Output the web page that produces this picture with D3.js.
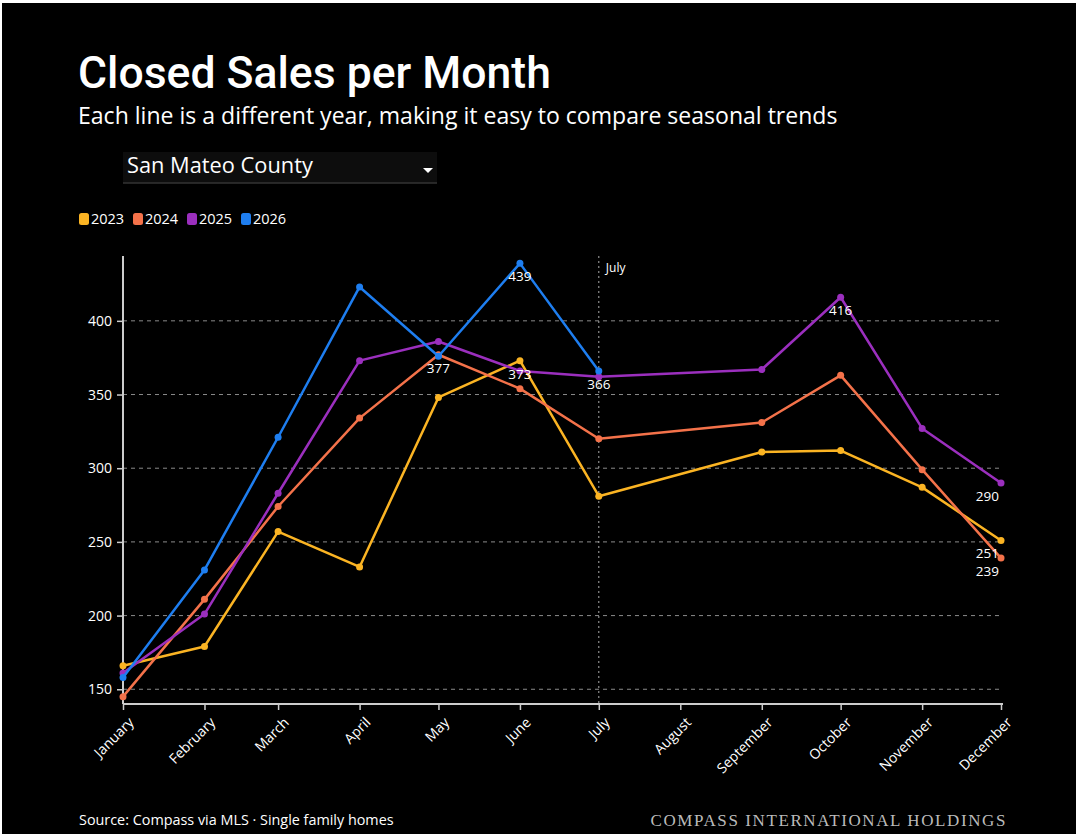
<!DOCTYPE html>
<html>
<head>
<meta charset="utf-8">
<script src="https://cdn.jsdelivr.net/npm/d3@7"></script>
<style>
  html, body { margin: 0; padding: 0; background: #fff; }
  #page { position: absolute; left: 2px; top: 3px; width: 1074px; height: 831px; background: #000; overflow: hidden; }
  svg { display: block; }
</style>
</head>
<body>
<div id="page"></div>
<script>
// months on a time axis (August has no data)
var months = ["January", "February", "March", "April", "May", "June", "July",
	"August", "September", "October", "November", "December"];
var years = ["2023", "2024", "2025", "2026"];
var colors = ["#fbb423", "#f4724a", "#9b2fbe", "#1e7ef0"];

// closed sales per month, null where no value
var sales2023 = [166, 179, 257, 233, 348, 373, 281, null, 311, 312, 287, 251];
var sales2024 = [145, 211, 274, 334, 377, 354, 320, null, 331, 363, 299, 239];
var sales2025 = [161, 201, 283, 373, 386, 366, 362, null, 367, 416, 327, 290];
var sales2026 = [158, 231, 321, 423, 376, 439, 366, null, null, null, null, null];
var allSales = [sales2023, sales2024, sales2025, sales2026];

var yTicks = [150, 200, 250, 300, 350, 400];
var currentMonth = "July";

var W = 1074, H = 831;
var svg = d3.select("#page").append("svg").attr("width", W).attr("height", H);
var font = "'Open Sans', 'Noto Sans', sans-serif";

// shrink or grow a text's font size so it spans the wanted width
function fitWidth(sel, width){
	var size = parseFloat(sel.attr("font-size"));
	var len = sel.node().getComputedTextLength();
	sel.attr("font-size", (size * width / len).toFixed(2) + "px");
}

// title block
var title = svg.append("text").attr("x", 76).attr("y", 85)
	.attr("fill", "#fff").attr("font-family", "Roboto, " + font).attr("font-size", "38px")
	.attr("font-weight", 500).text("Closed Sales per Month");
fitWidth(title, 473);
var sub = svg.append("text").attr("x", 76).attr("y", 121)
	.attr("fill", "#fff").attr("font-family", font).attr("font-size", "20px")
	.attr("font-weight", 500)
	.text("Each line is a different year, making it easy to compare seasonal trends");
fitWidth(sub, 760);

// dropdown look
var dd = svg.append("g").attr("transform", "translate(121,149)");
dd.append("rect").attr("width", 314).attr("height", 31).attr("fill", "#0d0d0d");
dd.append("line").attr("x1", 0).attr("x2", 314).attr("y1", 31).attr("y2", 31)
	.attr("stroke", "#333").attr("stroke-width", 1.5);
var ddText = dd.append("text").attr("x", 4).attr("y", 21).attr("fill", "#fff")
	.attr("font-family", font).attr("font-size", "19px").attr("font-weight", 500)
	.text("San Mateo County");
fitWidth(ddText, 186);
dd.append("path").attr("d", "M300,16 L310,16 L305,21 Z").attr("fill", "#fff");

// legend
var legend = svg.append("g").attr("transform", "translate(77,210)");
years.forEach(function(y, i){
	var g = legend.append("g").attr("transform", "translate(" + (i * 54) + ",0)");
	g.append("rect").attr("width", 10).attr("height", 12).attr("rx", 2.5)
		.attr("fill", colors[i]);
	g.append("text").attr("x", 12).attr("y", 11).attr("fill", "#fff")
		.attr("font-family", font).attr("font-size", "14.5px").attr("font-weight", 500).text(y);
});

// scales
var parseMonth = function(i){ return new Date(2023, i, 1); };
var x = d3.scaleTime()
	.domain([parseMonth(0), parseMonth(11)])
	.range([121, 999]);
var y = d3.scaleLinear().domain([140, 444]).range([701, 253]);

var chart = svg.append("g");

// grid lines
chart.selectAll("line.grid").data(yTicks).enter().append("line")
	.attr("class", "grid")
	.attr("x1", x.range()[0]).attr("x2", x.range()[1])
	.attr("y1", function(d){ return y(d); }).attr("y2", function(d){ return y(d); })
	.attr("stroke", "#8a8a8a").attr("stroke-width", 1).attr("stroke-dasharray", "4,4");

// current month marker
var cm = months.indexOf(currentMonth);
chart.append("line").attr("x1", x(parseMonth(cm))).attr("x2", x(parseMonth(cm)))
	.attr("y1", y.range()[1]).attr("y2", y.range()[0])
	.attr("stroke", "#aaa").attr("stroke-width", 1).attr("stroke-dasharray", "2,3");
chart.append("text").attr("x", x(parseMonth(cm)) + 7).attr("y", y.range()[1] + 16)
	.attr("fill", "#fff").attr("font-family", font).attr("font-size", "12px").text(currentMonth);

// axes
var yAxis = chart.append("g").attr("transform", "translate(" + x.range()[0] + ",0)")
	.call(d3.axisLeft(y).tickValues(yTicks).tickSize(6).tickPadding(5));
var xAxis = chart.append("g").attr("transform", "translate(0," + y.range()[0] + ")")
	.call(d3.axisBottom(x).tickValues(months.map(function(m, i){ return parseMonth(i); }))
		.tickFormat(function(d){ return months[d.getMonth()]; }).tickSize(6).tickSizeOuter(0));

[yAxis, xAxis].forEach(function(a){
	a.select(".domain").attr("stroke", "#ccc").attr("stroke-width", 2);
	a.selectAll(".tick line").attr("stroke", "#ccc").attr("stroke-width", 1.5);
	a.selectAll("text").attr("fill", "#fff").attr("font-family", font)
		.attr("font-size", "14px").attr("font-weight", 500);
});
xAxis.selectAll("text")
	.attr("text-anchor", "end")
	.attr("transform", "translate(0,8) rotate(-45)")
	.attr("dy", "0.5em").attr("dx", "0");
xAxis.select(".domain").attr("d", "M" + x.range()[0] + ",0H" + (x.range()[1] + 2));
yAxis.select(".domain").attr("d", "M0," + y.range()[0] + "V" + y.range()[1]);

// lines and points
var line = d3.line()
	.defined(function(d){ return d.v !== null; })
	.x(function(d){ return x(parseMonth(d.m)); })
	.y(function(d){ return y(d.v); });

allSales.forEach(function(series, s){
	var pts = series.map(function(v, m){ return {m: m, v: v}; })
		.filter(function(d){ return d.v !== null; });
	chart.append("path").datum(pts).attr("d", line)
		.attr("fill", "none").attr("stroke", colors[s]).attr("stroke-width", 2.5)
		.attr("stroke-linejoin", "round");
	chart.selectAll("circle.s" + s).data(pts).enter().append("circle")
		.attr("class", "s" + s)
		.attr("cx", function(d){ return x(parseMonth(d.m)); })
		.attr("cy", function(d){ return y(d.v); })
		.attr("r", 3.5).attr("fill", colors[s]);
});

// value labels: maximum and last point of each series
allSales.forEach(function(series, s){
	var pts = series.map(function(v, m){ return {m: m, v: v}; })
		.filter(function(d){ return d.v !== null; });
	var maxPt = pts.reduce(function(a, b){ return b.v > a.v ? b : a; });
	var lastPt = pts[pts.length - 1];
	[maxPt, lastPt].forEach(function(d){
		var atEdge = d.m === 11;
		chart.append("text")
			.attr("x", x(parseMonth(d.m)) + (atEdge ? -2 : 0))
			.attr("y", y(d.v) + 18)
			.attr("text-anchor", atEdge ? "end" : "middle")
			.attr("fill", "#fff").attr("font-family", font).attr("font-size", "13.5px")
			.attr("font-weight", 500)
			.text(d.v);
	});
});

// footer
var src = svg.append("text").attr("x", 77).attr("y", 822).attr("fill", "#fff")
	.attr("font-family", font).attr("font-size", "13px").attr("font-weight", 500)
	.text("Source: Compass via MLS \u00b7 Single family homes");
fitWidth(src, 315);
svg.append("text").attr("x", 1005).attr("y", 823).attr("text-anchor", "end")
	.attr("fill", "#bbb").attr("font-family", "'Liberation Serif', 'DejaVu Serif', serif")
	.attr("font-size", "17px").attr("letter-spacing", "1.6px")
	.text("COMPASS INTERNATIONAL HOLDINGS");
</script>
</body>
</html>
